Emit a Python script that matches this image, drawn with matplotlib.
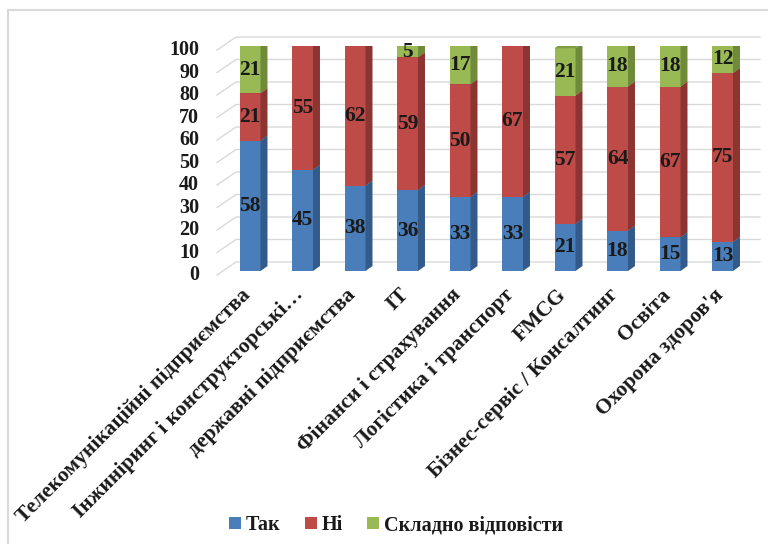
import matplotlib.pyplot as plt
from matplotlib.patches import Polygon, Patch
from matplotlib.lines import Line2D

plt.rcParams['font.family'] = ['Liberation Serif', 'DejaVu Serif']
plt.rcParams['font.weight'] = 'bold'

categories = ['Телекомунікаційні підприємства', 'Інжиніринг і конструкторські…',
              'державні підприємства', 'IT', 'Фінанси і страхування',
              'Логістика і транспорт', 'FMCG', 'Бізнес-сервіс / Консалтинг',
              'Освіта', "Охорона здоров'я"]
tak = [58, 45, 38, 36, 33, 33, 21, 18, 15, 13]
ni = [21, 55, 62, 59, 50, 67, 57, 64, 67, 75]
skladno = [21, 0, 0, 5, 17, 0, 21, 18, 18, 12]
series_names = ['Так', 'Ні', 'Складно відповісти']
yticks = [0, 10, 20, 30, 40, 50, 60, 70, 80, 90, 100]

front = ['#4A7EBB', '#BE4B48', '#98B954']
side = ['#325B8C', '#8C3431', '#6F8A39']
top = ['#3E6CA3', '#A33F3C', '#7E9C43']
grid_c = '#D9D9D9'
txt_c = '#1a1a1a'

W, H = 768, 544
fig = plt.figure(figsize=(W / 100, H / 100), dpi=100)
# axes in pixel terms: x=i -> 250+52.5*i, y=0 -> 271 from top, y=100 -> 46
ax = fig.add_axes([223.75 / W, (H - 271) / H, 525 / W, 225 / H])
ax.set_xlim(-0.5, 9.5)
ax.set_ylim(0, 100)
ax.axis('off')

# pseudo-3D geometry (data units)
bw = 0.4
bdx, bdy = 0.133, 2.2       # bar depth
wx0, wdy = -0.267, 4.0      # back wall left edge / lift
fx0, fdy = -0.629, -1.8     # front floor edge
wx1 = 9.714

for v in yticks:
    ax.plot([fx0, wx0, wx1], [v + fdy, v + wdy, v + wdy], color=grid_c,
            lw=1.0, clip_on=False, zorder=1)
    ax.text(-0.97, v + fdy, str(v), ha='right', va='center', fontsize=14.5,
            color=txt_c, clip_on=False)

x = list(range(len(categories)))
bottoms = [0] * len(x)
for k, vals in enumerate([tak, ni, skladno]):
    ax.bar(x, vals, width=bw, bottom=bottoms, color=front[k], zorder=3)
    for i, v in enumerate(vals):
        if v == 0:
            continue
        b = bottoms[i]
        xr = i + bw / 2
        xl = i - bw / 2
        ax.add_patch(Polygon([(xr, b), (xr + bdx, b + bdy), (xr + bdx, b + v + bdy), (xr, b + v)],
                             closed=True, facecolor=side[k], edgecolor='none', zorder=3))
        ax.add_patch(Polygon([(xl, b + v), (xr, b + v), (xr + bdx, b + v + bdy), (xl + bdx, b + v + bdy)],
                             closed=True, facecolor=top[k], edgecolor='none', zorder=3))
        ax.text(i, b + v / 2, str(v), ha='center', va='center', fontsize=15.5,
                color=txt_c, zorder=5)
    bottoms = [bottoms[i] + vals[i] for i in x]

for i, name in enumerate(categories):
    ax.text(i - 0.04, -9.3, name, rotation=45, rotation_mode='anchor',
            ha='right', va='center', fontsize=15.5, color=txt_c, clip_on=False)

handles = [Patch(facecolor=front[k], edgecolor='none', label=series_names[k]) for k in range(3)]
fig.legend(handles=handles, loc='center', bbox_to_anchor=(396 / W, 19 / H), ncol=3,
           frameon=False, fontsize=14.5, handlelength=0.6, handleheight=0.6,
           handletextpad=0.25, columnspacing=1.2, labelcolor=txt_c)

# outer chart frame
fig.add_artist(Line2D([8 / W, 1], [1 - 10 / H, 1 - 10 / H], color='#D9D9D9', lw=1.5))
fig.add_artist(Line2D([8 / W, 8 / W], [0, 1 - 10 / H], color='#D9D9D9', lw=1.5))

fig.savefig('out.png', dpi=100)
